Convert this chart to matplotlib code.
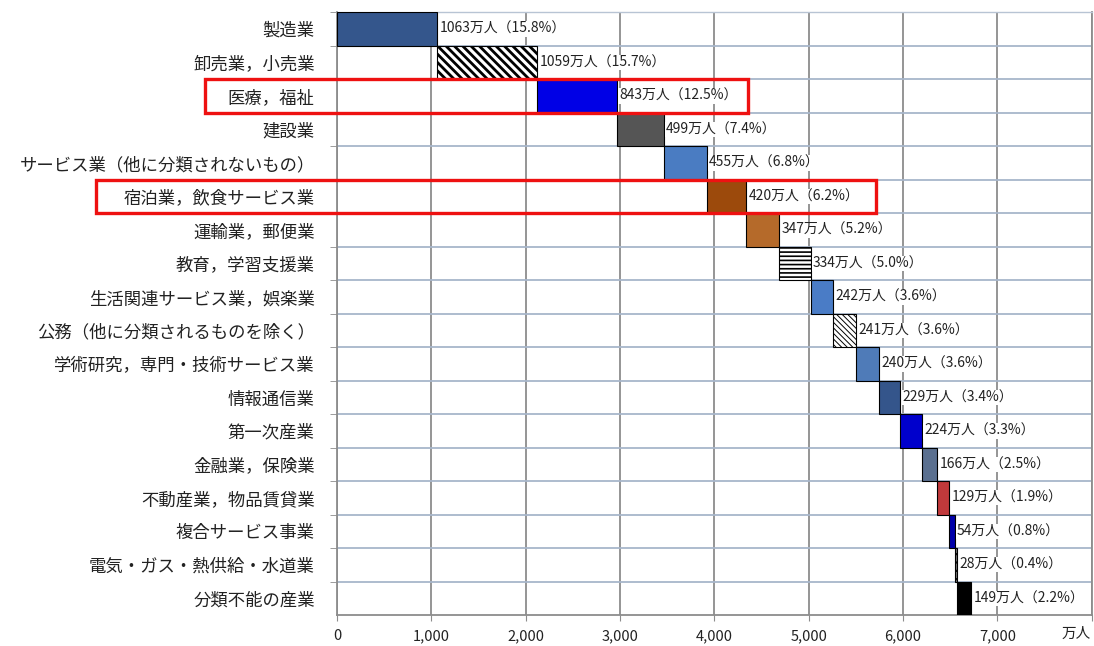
import matplotlib
matplotlib.use("Agg")
import matplotlib.pyplot as plt
import matplotlib.transforms as mtransforms
from matplotlib.patches import Rectangle

plt.rcParams["font.family"] = ["Noto Sans CJK JP", "DejaVu Sans"]
plt.rcParams["hatch.linewidth"] = 1.6

# employed persons by industry (万人) and share of total (%)
industries = [
    "製造業", "卸売業，小売業", "医療，福祉", "建設業",
    "サービス業（他に分類されないもの）", "宿泊業，飲食サービス業",
    "運輸業，郵便業", "教育，学習支援業", "生活関連サービス業，娯楽業",
    "公務（他に分類されるものを除く）", "学術研究，専門・技術サービス業",
    "情報通信業", "第一次産業", "金融業，保険業", "不動産業，物品賃貸業",
    "複合サービス事業", "電気・ガス・熱供給・水道業", "分類不能の産業",
]
workers = [1063, 1059, 843, 499, 455, 420, 347, 334, 242, 241, 240, 229, 224, 166, 129, 54, 28, 149]
shares = [15.8, 15.7, 12.5, 7.4, 6.8, 6.2, 5.2, 5.0, 3.6, 3.6, 3.6, 3.4, 3.3, 2.5, 1.9, 0.8, 0.4, 2.2]
highlighted = ["医療，福祉", "宿泊業，飲食サービス業"]

x_ticks = [0, 1000, 2000, 3000, 4000, 5000, 6000, 7000, 8000]
x_ticklabels = ["0", "1,000", "2,000", "3,000", "4,000", "5,000", "6,000", "7,000", ""]

fills = ["#34568c", "white", "#0000e6", "#555555", "#4a7cc2", "#9c4a0c",
         "#b56a2a", "white", "#4a7cc6", "white", "#4f7bb8", "#34558b",
         "#0000cc", "#5b7090", "#c0393b", "#0000aa", "#777777", "#000000"]
hatches = [None, "\\\\\\\\", None, None, None, None, None, "----", None, "\\\\\\\\\\\\",
           None, None, None, None, None, None, "....", None]
hatch_lw = [None, 2.0, None, None, None, None, None, 1.2, None, 0.7,
            None, None, None, None, None, None, 1.0, None]

fig = plt.figure(figsize=(10.94, 6.46), dpi=100)
ax = fig.add_axes([0.308, 0.048, 0.690, 0.933])

# waterfall: each bar starts where the previous one ended
starts = []
total = 0
for w in workers:
    starts.append(total)
    total += w

ypos = list(range(len(industries)))
for i, (s, w) in enumerate(zip(starts, workers)):
    bar = ax.barh(i, w, left=s, height=1.0, color=fills[i], edgecolor="black",
                  linewidth=0.8, hatch=hatches[i], zorder=3)[0]
    if hatch_lw[i] is not None and hasattr(bar, "set_hatch_linewidth"):
        bar.set_hatch_linewidth(hatch_lw[i])
    ax.text(s + w + 25, i, f"{w}万人（{shares[i]}%）", va="center", ha="left",
            fontsize=10, color="#222222", zorder=4,
            bbox=dict(facecolor="white", edgecolor="none", pad=0.5))

ax.set_xlim(0, 8000)
ax.set_ylim(len(industries) - 0.5, -0.5)

ax.set_xticks(x_ticks)
ax.set_xticklabels(x_ticklabels)
ax.tick_params(axis="x", length=4, color="#8c8c8c", labelsize=10.5, pad=6, labelcolor="#222222")
ax.text(7990, -0.02, "万人", transform=mtransforms.blended_transform_factory(ax.transData, ax.transAxes),
        ha="right", va="top", fontsize=10.5, color="#222222")

ax.set_yticks(ypos)
ax.set_yticklabels(industries, fontsize=12.5, color="#222222")
ax.set_yticks([y + 0.5 for y in ypos[:-1]] + [-0.5], minor=True)
ax.tick_params(axis="y", which="major", length=0, pad=16)
ax.tick_params(axis="y", which="minor", length=5, color="#8c8c8c")

ax.grid(axis="x", which="major", color="#8c8c8c", linewidth=1.3, zorder=0)
ax.grid(axis="y", which="minor", color="#a7b6ca", linewidth=1.3, zorder=0)
ax.set_axisbelow(True)
for side in ["left", "bottom", "right"]:
    ax.spines[side].set_color("#8c8c8c")
    ax.spines[side].set_linewidth(1.3)
ax.spines["top"].set_color("#b8c4d4")
ax.spines["top"].set_linewidth(1.0)

# red frames around highlighted rows (extend into the label area)
frame_x = {"医療，福祉": (0.187, 0.684), "宿泊業，飲食サービス業": (0.088, 0.801)}
trans = mtransforms.blended_transform_factory(fig.transFigure, ax.transData)
for name in highlighted:
    i = industries.index(name)
    x0, x1 = frame_x[name]
    fig.patches.append(Rectangle((x0, i + 0.5), x1 - x0, -1.0, transform=trans,
                                 fill=False, edgecolor="#ee1111", linewidth=2.4, zorder=10))

fig.savefig("out.png", dpi=100)
